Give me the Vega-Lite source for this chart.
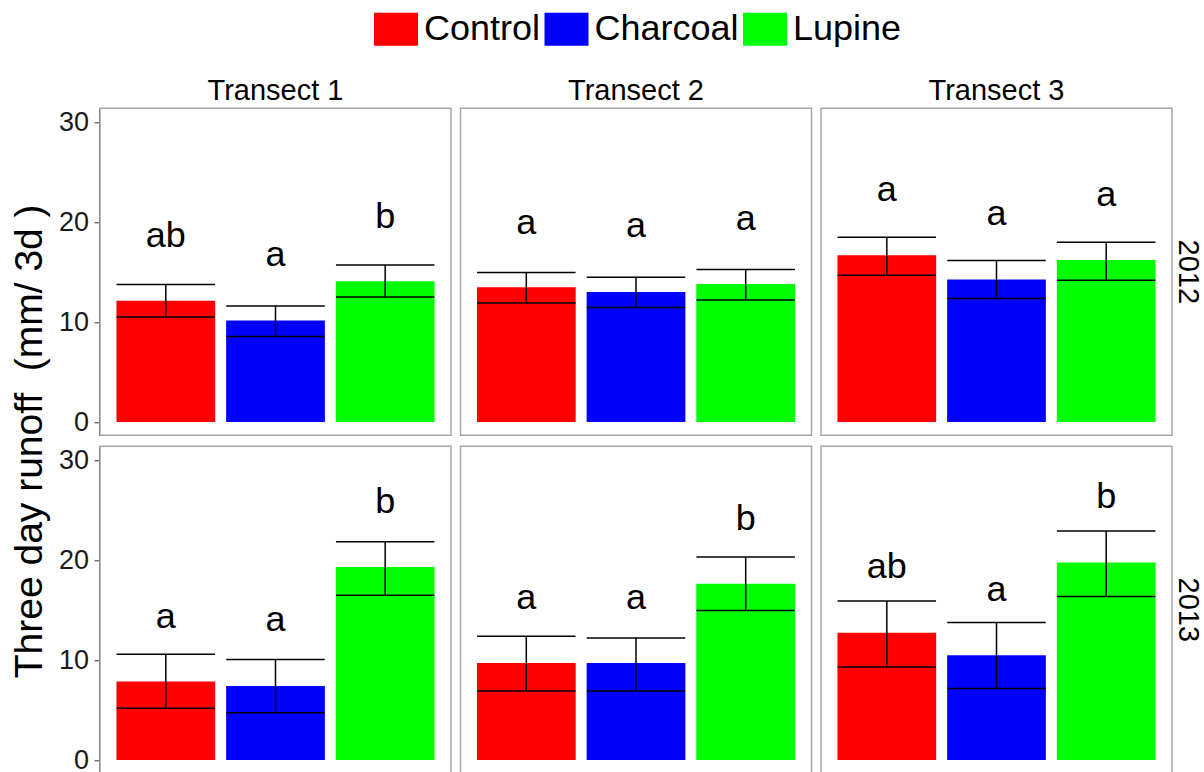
{
  "$schema": "https://vega.github.io/schema/vega-lite/v6.json",
  "padding": {"left": 10, "top": 7.3, "right": 0, "bottom": 0},
  "background": "white",
  "config": {
    "font": "Liberation Sans",
    "view": {"stroke": "#a6a6a6", "strokeWidth": 1.5},
    "header": {"labelFont": "Liberation Sans", "labelColor": "black", "titleFont": "Liberation Sans", "titleColor": "black"}
  },
  "data": {
    "values": [
      {"year": "2012", "transect": "Transect 1", "treatment": "Control", "mean": 12.15, "lower": 10.53, "upper": 13.78, "letter": "ab", "label_y": 17.57},
      {"year": "2012", "transect": "Transect 1", "treatment": "Charcoal", "mean": 10.17, "lower": 8.57, "upper": 11.64, "letter": "a", "label_y": 15.62},
      {"year": "2012", "transect": "Transect 1", "treatment": "Lupine", "mean": 14.11, "lower": 12.54, "upper": 15.75, "letter": "b", "label_y": 19.5},
      {"year": "2012", "transect": "Transect 2", "treatment": "Control", "mean": 13.51, "lower": 11.94, "upper": 14.98, "letter": "a", "label_y": 18.83},
      {"year": "2012", "transect": "Transect 2", "treatment": "Charcoal", "mean": 13.04, "lower": 11.47, "upper": 14.51, "letter": "a", "label_y": 18.5},
      {"year": "2012", "transect": "Transect 2", "treatment": "Lupine", "mean": 13.84, "lower": 12.24, "upper": 15.29, "letter": "a", "label_y": 19.23},
      {"year": "2012", "transect": "Transect 3", "treatment": "Control", "mean": 16.72, "lower": 14.72, "upper": 18.53, "letter": "a", "label_y": 22.17},
      {"year": "2012", "transect": "Transect 3", "treatment": "Charcoal", "mean": 14.28, "lower": 12.38, "upper": 16.19, "letter": "a", "label_y": 19.73},
      {"year": "2012", "transect": "Transect 3", "treatment": "Lupine", "mean": 16.25, "lower": 14.21, "upper": 18.02, "letter": "a", "label_y": 21.67},
      {"year": "2013", "transect": "Transect 1", "treatment": "Control", "mean": 7.88, "lower": 5.2, "upper": 10.6, "letter": "a", "label_y": 13.24},
      {"year": "2013", "transect": "Transect 1", "treatment": "Charcoal", "mean": 7.41, "lower": 4.73, "upper": 10.09, "letter": "a", "label_y": 12.91},
      {"year": "2013", "transect": "Transect 1", "treatment": "Lupine", "mean": 19.34, "lower": 16.53, "upper": 21.89, "letter": "b", "label_y": 24.8},
      {"year": "2013", "transect": "Transect 2", "treatment": "Control", "mean": 9.72, "lower": 6.91, "upper": 12.4, "letter": "a", "label_y": 15.18},
      {"year": "2013", "transect": "Transect 2", "treatment": "Charcoal", "mean": 9.72, "lower": 6.91, "upper": 12.24, "letter": "a", "label_y": 15.18},
      {"year": "2013", "transect": "Transect 2", "treatment": "Lupine", "mean": 17.67, "lower": 14.98, "upper": 20.35, "letter": "b", "label_y": 23.06},
      {"year": "2013", "transect": "Transect 3", "treatment": "Control", "mean": 12.77, "lower": 9.32, "upper": 15.93, "letter": "ab", "label_y": 18.2},
      {"year": "2013", "transect": "Transect 3", "treatment": "Charcoal", "mean": 10.5, "lower": 7.18, "upper": 13.78, "letter": "a", "label_y": 15.93},
      {"year": "2013", "transect": "Transect 3", "treatment": "Lupine", "mean": 19.81, "lower": 16.39, "upper": 22.97, "letter": "b", "label_y": 25.24}
    ]
  },
  "facet": {
    "column": {"field": "transect", "type": "nominal", "header": {"title": null, "labelFontSize": 29, "labelPadding": 1.5}},
    "row": {"field": "year", "type": "nominal", "header": {"title": "Three day runoff\u00a0 (mm/ 3d )", "titleOrient": "left", "titleFontSize": 39, "titleFontWeight": "normal", "titlePadding": -1.5,
      "labelFontSize": 29, "labelAngle": 90, "labelOrient": "right", "labelPadding": 0}}
  },
  "spacing": {"row": 9, "column": 7.5},
  "spec": {
    "width": 351,
    "height": 327,
    "encoding": {
      "x": {"field": "treatment", "type": "nominal", "sort": ["Control", "Charcoal", "Lupine"], "axis": null, "scale": {"paddingInner": 0.1, "paddingOuter": 0.15}}
    },
    "layer": [
      {
        "mark": {"type": "bar"},
        "encoding": {
          "y": {"field": "mean", "type": "quantitative", "scale": {"domain": [-1.33, 31.45], "nice": false, "zero": false},
            "axis": {"values": [0, 10, 20, 30], "title": null,
              "labelFontSize": 27, "labelColor": "#1a1a1a", "labelPadding": 5.5, "grid": false, "tickColor": "#333333", "tickSize": 5, "domainColor": "#333333"}},
          "y2": {"datum": 0},
          "color": {"field": "treatment", "type": "nominal", "sort": ["Control", "Charcoal", "Lupine"],
            "scale": {"domain": ["Control", "Charcoal", "Lupine"], "range": ["#ff0000", "#0000ff", "#00ff00"]},
            "legend": {"orient": "none", "direction": "horizontal", "legendX": 274, "legendY": -101, "title": null, "labelFontSize": 36, "labelColor": "black",
              "symbolType": "M-1,-0.75H1V0.75H-1Z", "symbolSize": 1936, "symbolStrokeWidth": 0, "symbolOpacity": 1, "labelOffset": 6, "columnPadding": 3.5}}
        }
      },
      {
        "mark": {"type": "rule", "color": "black", "strokeWidth": 1.5},
        "encoding": {"y": {"field": "lower", "type": "quantitative"}, "y2": {"field": "upper"}}
      },
      {
        "mark": {"type": "tick", "color": "black", "thickness": 1.5, "size": 98.5, "opacity": 1},
        "encoding": {"y": {"field": "upper", "type": "quantitative"}}
      },
      {
        "mark": {"type": "tick", "color": "black", "thickness": 1.5, "size": 98.5, "opacity": 1},
        "encoding": {"y": {"field": "lower", "type": "quantitative"}}
      },
      {
        "mark": {"type": "text", "fontSize": 36, "baseline": "alphabetic", "color": "black"},
        "encoding": {"y": {"field": "label_y", "type": "quantitative"}, "text": {"field": "letter"}}
      }
    ]
  }
}
